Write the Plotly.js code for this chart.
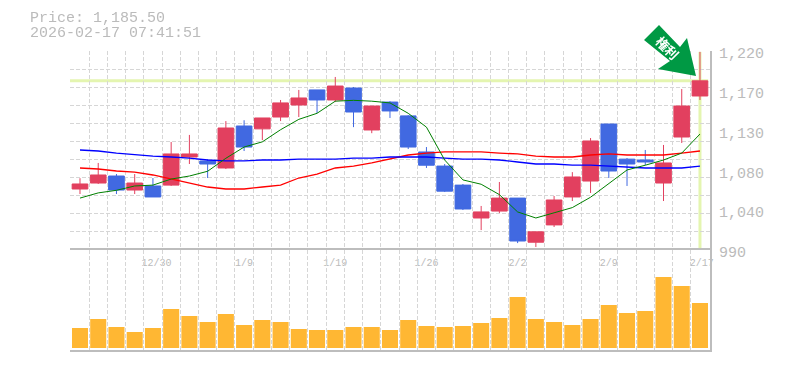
<!DOCTYPE html>
<html>
<head>
<meta charset="utf-8">
<script src="https://cdn.plot.ly/plotly-3.0.1.min.js"></script>
<style>html,body{margin:0;padding:0;background:#fff}#c{width:785px;height:370px}</style>
</head>
<body>
<div id="c"></div>
<script>
const openP = [1060.5,1067.4,1075.5,1059.3,1064,1065,1097.5,1092.9,1084.8,1133.3,1130,1143.7,1157.6,1175,1163.4,1177.2,1128.7,1161,1145,1103.3,1087,1065,1027,1035,1050,999,1019,1051.3,1069.7,1135.6,1095,1094,1067.4,1120.6,1168];
const highP = [1073,1090.6,1077.8,1077.8,1073.2,1114.8,1123,1095,1139,1140,1142.6,1163.4,1175,1175,1190,1178.4,1156.4,1162,1146,1109,1089.4,1066.3,1040.9,1068.6,1050,1011,1052.4,1080,1119.4,1135.6,1096.3,1105.6,1111.4,1176,1219];
const lowP = [1054.7,1066.3,1054.7,1054.7,1051.3,1064,1089.4,1073.2,1083.6,1104.4,1117,1139,1143.7,1148.3,1161,1132,1125,1142.6,1106.7,1084.8,1057,1036.2,1013,1032.8,998,993.5,1016.6,1046.6,1055.9,1073.2,1064,1088,1046.6,1113.7,1163.4];
const closeP = [1066.3,1076.7,1059.3,1067.4,1051.3,1101,1101,1089.4,1131,1109,1142.6,1160,1165.7,1163.4,1179.5,1149.5,1156.4,1150.7,1109,1088,1058,1037.4,1034,1050,1000.4,1011,1047.8,1074.4,1116,1081.3,1089.4,1091.7,1090.6,1156.4,1185.5];
const maShort = [1050,1056,1059,1064,1065,1072,1075.5,1081,1096,1109,1115,1129,1141,1148,1162,1163,1162,1160,1148,1132,1094,1071,1066,1054,1034,1027,1033,1039,1051,1067,1082.5,1088,1094,1102,1124];
const maMid = [1084.8,1083.6,1081.3,1080,1076.7,1072,1067.4,1062.8,1060.5,1060.5,1062.8,1065,1073.2,1077.8,1084.8,1087,1090.6,1095,1099.8,1102,1103.3,1103.3,1103.3,1102,1101,1098.6,1097.5,1097.5,1099.8,1101,1099.8,1099.8,1099.8,1102,1104.4];
const maLong = [1105.6,1104.4,1102,1100,1098.6,1097.5,1096.3,1094,1093,1093,1094,1094,1095,1095,1095,1096.3,1096.3,1097.5,1097.5,1097.5,1096.3,1095,1095,1094,1091.7,1089.4,1089.4,1088,1088,1087,1086,1084.8,1084.8,1084.8,1087];
const volume = [20,29,21,16,20,39,32,26,34,23,28,26,19,18,18,21,21,18,28,22,21,22,25,30,51,29,26,23,29,43,35,37,71,62,45];
const priceTickVals = [990,1036,1082,1128,1174,1220];
const priceTickText = ['990','1,040','1,080','1,130','1,170','1,220'];
const dateTickIdx = [4.2,9,14,19,24,29,34.1];
const dateTickText = ['12/30','1/9','1/19','1/26','2/2','2/9','2/17'];
const headerLines = ['Price: 1,185.50','2026-02-17 07:41:51'];
const badgeText = '権利';

const idx = volume.map((_, i) => i);
const last = idx.length - 1;
const lastPrice = closeP[last];
const W = 785, H = 370, L = 70, R = 75, T = 51, B = 20;
const pw = W - L - R, ph = H - T - B;
const volSplit = 100 / ph;
const xRange = [-0.548, 34.55];
const yRange = [990, 1220];
const px = x => (x - L) / pw;
const py = y => 1 - (y - T) / ph;
const arrow = [[659,25],[644,40],[670,61],[658,69],[696,76],[687,38],[680,47]];
const arrowPath = arrow.map((p, i) => (i ? 'L' : 'M') + px(p[0]) + ',' + py(p[1])).join(' ') + ' Z';

const gridCol = '#d6d6d6', axisCol = '#bdbdbd', txtCol = '#bbbbbb', mono = 'Liberation Mono, monospace';
const dash = '4px,2px';
const ma = (y, color, width) => ({type:'scatter', mode:'lines', x:idx, y:y, xaxis:'x', yaxis:'y', line:{color:color, width:width}, hoverinfo:'skip'});
const traces = [
  ma(maMid, '#ff0000', 1.3),
  ma(maLong, '#0000ff', 1.3),
  ma(maShort, '#008000', 1),
  {type:'candlestick', x:idx, open:openP, high:highP, low:lowP, close:closeP, xaxis:'x', yaxis:'y',
   increasing:{line:{color:'#e2405f', width:1}, fillcolor:'#e2405f'},
   decreasing:{line:{color:'#4169e1', width:1}, fillcolor:'#4169e1'}, hoverinfo:'skip'},
  {type:'bar', x:idx, y:volume, xaxis:'x2', yaxis:'y2', width:0.88, marker:{color:'#ffb733', line:{width:0}}, hoverinfo:'skip'},
  {type:'scatter', mode:'markers', x:idx, y:closeP, xaxis:'x3', yaxis:'y3', opacity:0, marker:{size:1}, hoverinfo:'skip'}
];
const gridX = {tickmode:'linear', tick0:-0.5, dtick:1, showticklabels:false, ticks:'', showgrid:true, gridcolor:gridCol, griddash:dash, gridwidth:1, zeroline:false};
const layout = {
  width:W, height:H, showlegend:false, paper_bgcolor:'#fff', plot_bgcolor:'#fff',
  margin:{l:L, r:R, t:T, b:B, pad:0},
  boxgap:0.14, boxgroupgap:0,
  font:{family:mono, color:txtCol},
  xaxis:Object.assign({domain:[0,1], anchor:'y', range:xRange, showline:false, rangeslider:{visible:false}}, gridX),
  yaxis:{domain:[volSplit,1], anchor:'x', side:'right', range:yRange, tickmode:'linear', tick0:yRange[0], dtick:(yRange[1]-yRange[0])/11,
    showticklabels:false, ticks:'', showgrid:true, gridcolor:gridCol, griddash:dash, gridwidth:1, zeroline:false, showline:true, linecolor:axisCol, linewidth:2},
  xaxis2:Object.assign({domain:[0,1], anchor:'y2', range:xRange, showline:true, mirror:true, linecolor:axisCol, linewidth:2}, gridX),
  yaxis2:{domain:[0,volSplit], anchor:'x2', side:'right', range:[-2,98], showticklabels:false, ticks:'', showgrid:false, zeroline:false,
    showline:true, linecolor:axisCol, linewidth:2},
  xaxis3:{overlaying:'x', anchor:'y3', side:'bottom', range:xRange, tickmode:'array', tickvals:dateTickIdx, ticktext:dateTickText,
    tickfont:{size:10, color:txtCol, family:mono}, ticks:'', showgrid:false, zeroline:false, showline:false, ticklabelstandoff:5},
  yaxis3:{overlaying:'y', anchor:'x3', side:'right', range:yRange, tickmode:'array', tickvals:priceTickVals, ticktext:priceTickText,
    tickfont:{size:15, color:txtCol, family:mono}, ticks:'', showgrid:false, zeroline:false, showline:false, ticklabelstandoff:8, ticklabelshift:2},
  shapes:[
    {type:'line', layer:'below', xref:'x', yref:'y', x0:xRange[0], x1:last+0.45, y0:lastPrice, y1:lastPrice, line:{color:'#e4f5b0', width:3}},
    {type:'line', layer:'below', xref:'x', yref:'y', x0:last, x1:last, y0:991, y1:1219, line:{color:'#e4f5b0', width:3}},
    {type:'path', layer:'above', xref:'paper', yref:'paper', path:arrowPath, fillcolor:'#009944', line:{width:0}}
  ],
  annotations:[
    {xref:'paper', yref:'paper', x:px(28), y:py(18), text:headerLines[0], showarrow:false, xanchor:'left', yanchor:'middle', font:{size:15, color:txtCol, family:mono}},
    {xref:'paper', yref:'paper', x:px(28), y:py(33), text:headerLines[1], showarrow:false, xanchor:'left', yanchor:'middle', font:{size:15, color:txtCol, family:mono}},
    {xref:'paper', yref:'paper', x:px(667.5), y:py(47), text:badgeText, showarrow:false, textangle:45, xanchor:'center', yanchor:'middle', font:{size:13, color:'#ffffff', family:'Noto Sans CJK JP', weight:700}}
  ]
};
Plotly.newPlot('c', traces, layout, {displayModeBar:false, staticPlot:true});
</script>
</body>
</html>
